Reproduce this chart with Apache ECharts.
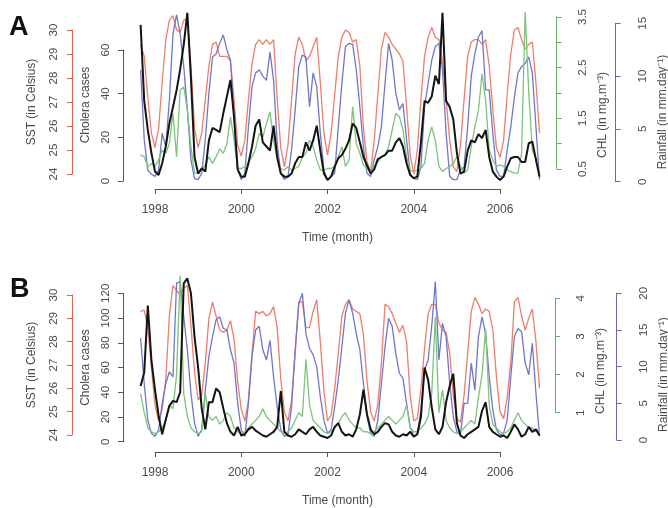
<!DOCTYPE html>
<html><head><meta charset="utf-8">
<script src="https://cdn.jsdelivr.net/npm/echarts@6/dist/echarts.min.js"></script>
<style>html,body{margin:0;padding:0;background:#fff}#c{width:668px;height:508px}</style>
</head><body><div id="c"></div>
<script>
// ---- DATA (monthly, Sep 1997 .. Dec 2006) ----
const START_YEAR = 1997, START_MONTH = 9;
const xTickYears = [1998, 2000, 2002, 2004, 2006];

// Panel A
const sstA = [29.4,28.9,27.2,25.7,
 25.1,25.9,27.8,29.6,30.4,30.6,30.0,29.9,30.4,30.5,28.5,25.9,
 25.1,25.7,27.1,28.5,29.4,29.5,28.9,28.9,28.9,28.7,27.1,25.2,
 24.75,25.4,27.1,28.6,29.4,29.6,29.4,29.6,29.4,29.6,27.1,25.1,
 24.3,25.2,27.1,29.0,29.7,29.4,28.7,28.9,29.3,29.7,27.8,25.7,
 24.8,25.7,27.3,28.9,29.7,30.0,29.9,29.5,29.6,28.5,25.9,24.5,
 24.1,25.4,27.3,29.2,29.9,29.7,29.4,29.2,29.0,28.7,26.8,24.8,
 24.0,25.0,27.1,28.9,29.7,30.1,29.7,29.6,28.7,27.1,25.4,24.3,
 24.1,25.2,27.1,28.9,29.5,29.6,29.6,29.4,29.6,28.5,26.7,25.1,
 24.7,25.4,27.3,29.0,30.0,30.1,29.6,29.2,29.4,29.5,27.8,25.7];
const rainA = [10.6,4.0,1.1,0.7,
 0.5,1.1,4.6,3.3,7.7,14.0,15.8,14.0,10.9,6.8,2.1,0.3,
 0.2,0.8,4.0,8.4,11.8,12.1,13.1,13.9,12.5,11.5,6.2,1.1,
 0.2,0.8,5.2,9.0,10.3,10.6,10.0,9.6,12.3,9.6,3.6,0.8,
 0.2,0.5,3.0,6.8,10.9,12.0,11.8,7.1,10.3,9.0,4.6,1.1,
 0.2,0.5,0.8,5.2,9.3,12.8,13.1,13.0,10.6,7.1,3.3,0.8,
 0.5,2.1,3.3,5.2,9.3,13.1,11.5,8.4,6.8,7.4,4.0,0.8,
 0.3,0.2,1.4,7.1,9.3,11.5,12.8,13.1,10.6,4.6,0.5,0.2,
 0.2,1.1,1.4,5.2,10.0,12.1,13.7,14.3,8.7,8.7,4.6,1.1,
 0.5,0.5,3.0,5.2,8.0,10.3,10.9,11.2,11.8,10.3,5.2,0.2];
const choleraA = [71.5,36.7,23.4,12.9,
 4.3,2.8,8.1,15.8,26.3,33.9,41.5,51.1,62.5,77,47.2,11.0,
 3.4,5.8,4.3,18.6,24.3,23.4,22.4,31.0,38.7,46.3,29.1,5.3,
 2.0,2.0,8.1,15.8,25.3,28.2,17.7,15.8,13.9,25.3,11.0,3.4,
 2.0,2.0,3.4,8.1,11.0,11.0,17.7,13.9,18.6,25.3,13.9,3.4,
 0.5,2.0,6.6,10.4,11.9,14.8,18.6,26.3,24.3,17.7,11.0,7.2,
 3.4,5.3,10.0,11.0,11.9,13.9,13.9,17.7,19.6,15.8,8.1,2.8,
 1.3,2.0,17.7,36.7,35.8,38.7,48.2,44.4,77,36.7,33.9,28.2,
 12.9,3.4,4.3,13.9,18.6,17.7,21.5,19.6,23.4,11.0,4.3,2.0,
 0.5,2.0,6.6,10.4,11.0,11.0,8.7,8.7,17.3,18.0,9.7,2.0];
const chlA = [0.78,0.74,0.55,0.61,
 0.55,0.68,0.87,0.81,1.0,1.6,0.74,2.06,2.12,1.66,0.94,0.42,
 0.42,0.48,0.58,0.74,0.61,0.74,0.9,0.81,1.0,1.53,1.07,0.51,
 0.51,0.55,0.64,0.74,0.9,1.2,1.13,1.4,1.63,1.07,0.68,0.51,
 0.48,0.55,0.48,0.51,0.55,0.74,0.81,1.07,0.94,0.68,0.48,0.48,
 0.51,0.51,0.55,0.74,0.94,0.55,0.68,1.73,1.0,0.81,0.58,0.51,
 0.51,0.55,0.64,0.74,0.78,0.94,1.27,1.6,1.53,1.27,0.74,0.48,
 0.45,0.48,0.51,0.61,1.07,1.33,1.07,0.55,0.45,0.51,0.55,0.61,
 0.74,0.55,0.42,0.48,0.94,1.33,1.66,2.38,1.86,0.87,0.68,0.55,
 0.58,0.55,0.48,0.45,0.42,0.42,0.81,3.6,2.0,0.87,0.71,0.68];

// Panel B
const sstB = [29.3,29.35,28.6,26.9,
 25.3,24.6,25.1,26.4,29.1,30.4,30.2,30.0,30.3,30.4,28.7,26.7,
 25.5,25.7,27.1,29.0,29.7,29.1,28.5,28.4,28.5,28.9,28.1,26.3,
 25.1,24.6,25.5,27.5,29.3,29.2,29.3,29.1,29.2,29.5,28.6,26.4,
 25.0,24.6,25.5,27.5,29.7,29.7,28.6,28.6,29.3,29.8,28.0,25.9,
 24.6,24.85,26.0,27.5,29.1,29.6,29.8,29.4,29.3,29.2,28.3,26.3,
 25.0,24.6,25.3,27.1,29.6,29.5,29.2,28.8,28.4,28.7,28.0,25.7,
 24.6,24.7,26.0,27.7,29.2,29.6,29.6,28.8,28.5,28.4,27.5,25.7,
 24.7,24.55,25.7,27.5,29.3,29.9,29.6,29.2,29.4,29.3,28.5,26.5,
 25.0,24.7,25.6,27.1,29.7,29.9,29.1,28.5,29.0,29.4,28.0,26.0];
const rainB = [13.9,7.7,2.7,0.9,
 0.5,1.4,5.0,7.7,9.3,8.6,21.4,21.6,16.8,12.3,6.4,2.3,
 0.5,1.4,6.8,11.4,14.1,16.4,16.8,15.2,15.0,12.3,10.5,5.0,
 1.4,0.5,5.0,11.4,15.0,15.5,12.3,10.9,13.6,8.6,4.5,1.4,
 0.5,0.7,4.5,12.3,18.6,20.0,14.5,12.5,11.6,10.0,5.9,2.7,
 0.9,1.4,4.5,8.2,12.7,17.3,19.1,17.3,14.5,12.3,7.7,3.2,
 0.9,0.5,2.7,7.7,12.7,16.6,15.5,11.8,9.1,8.4,5.0,1.8,
 0.5,0.9,4.1,9.5,10.9,15.5,21.6,10.9,15.9,14.1,7.7,3.2,
 1.1,0.7,5.0,5.0,10.5,6.8,14.1,16.8,14.5,8.6,4.1,1.4,
 0.7,0.9,2.7,8.6,14.1,15.2,14.8,10.5,8.9,13.2,6.4,0.5];
const choleraB = [45,56,110,66,
 42,21,6,18,29,33,32,40,128,132,120,85,
 60,27,10,32,32,43,40,27,15,8,5,12,
 5,6,10,12,9,7,5,4,6,8,12,41,
 8,5,4,6,10,8,6,10,12,8,5,4,
 3,5,12,15,8,5,6,4,10,22,42,22,
 10,6,8,12,15,14,8,5,4,6,5,8,
 4,6,20,60,50,28,10,6,12,32,45,55,
 15,5,3,6,8,10,12,25,32,12,8,6,
 4,5,3,8,14,10,4,6,12,8,10,5];
const chlB = [1.5,1.0,0.6,0.5,
 0.45,0.5,0.6,0.8,1.2,1.1,2.0,4.6,1.5,0.9,0.6,0.5,
 0.45,0.5,1.5,0.9,0.8,0.9,0.7,0.8,1.0,0.9,0.6,0.5,
 0.45,0.5,0.6,0.7,0.8,0.9,1.1,0.9,0.8,0.7,0.6,0.5,
 0.45,0.5,0.6,0.8,1.0,0.9,2.4,1.2,0.8,0.7,0.6,0.5,
 0.45,0.5,0.6,0.7,0.9,1.0,0.8,0.7,0.6,0.6,0.5,0.5,
 0.45,0.5,0.6,0.7,0.8,0.9,0.8,0.7,0.8,0.9,1.2,0.6,
 0.5,0.5,0.6,0.7,0.9,1.5,3.5,1.0,1.6,0.8,0.6,0.5,
 0.45,0.5,0.6,0.7,0.8,0.7,1.4,2.0,3.2,1.2,0.7,0.6,
 0.5,0.45,0.5,0.6,0.8,1.0,0.8,0.7,0.6,0.6,0.5,0.5];

const chlLabelsA = [0.5, 1.5, 2.5, 3.5];

// ---- LAYOUT ----
const FONT = '"Liberation Sans", Arial, Helvetica, sans-serif';
const XMIN = 1997.5, XMAX = 2007.1;
const GL = 155 - 0.5 * 43.125, GW = 9.6 * 43.125;
function tOf(i) { return START_YEAR + (START_MONTH - 1 + i) / 12; }
function pairs(arr) { return arr.map((v, i) => [tOf(i), v]); }

const C = {
  sstLine: '#ef7e6c', sstAxis: '#e4604e',
  rainLine: '#7077c8', rainAxis: '#6a64b4',
  chlLine: '#7cc47c', chlAxis: '#62b462',
  cholLine: '#141414', cholAxis: '#555555',
  text: '#4a4a4a'
};

const grids = [], xAxes = [], yAxes = [], series = [];

function addAxis(cfg) {
  const gi = grids.length;
  grids.push({ left: GL, width: GW, top: cfg.top, height: cfg.bottom - cfg.top, containLabel: false, outerBoundsMode: 'none' });
  xAxes.push({ type: 'value', gridIndex: gi, min: XMIN, max: XMAX, show: false });
  yAxes.push({
    type: 'value', gridIndex: gi, min: cfg.min, max: cfg.max, interval: cfg.interval,
    position: cfg.side, offset: cfg.offset,
    name: cfg.name, nameLocation: 'middle', nameGap: cfg.nameGap,
    nameTextStyle: { fontFamily: FONT, fontSize: 12, color: C.text, padding: cfg.namePad || 0 },
    axisLine: { show: true, onZero: false, lineStyle: { color: cfg.axisColor, width: 1 } },
    axisTick: { show: true, length: 5, lineStyle: { color: cfg.axisColor, width: 1 } },
    axisLabel: { rotate: 90, margin: cfg.labelMargin, fontFamily: FONT, fontSize: 11.5, color: C.text,
      formatter: cfg.labels ? (v => cfg.labels.some(l => Math.abs(l - v) < 1e-6) ? String(v) : '') : (v => String(v)) },
    splitLine: { show: false }
  });
  series.push({
    type: 'line', xAxisIndex: gi, yAxisIndex: gi, data: pairs(cfg.data),
    showSymbol: false, symbol: 'none', clip: false, silent: true, animation: false,
    z: cfg.z, lineStyle: { color: cfg.lineColor, width: cfg.lineWidth }
  });
}

function addXAxis(axisY) {
  const gi = grids.length;
  grids.push({ left: 155, width: 345, top: axisY - 1, height: 1, containLabel: false, outerBoundsMode: 'none' });
  xAxes.push({
    type: 'value', gridIndex: gi, min: xTickYears[0], max: xTickYears[xTickYears.length - 1], interval: 2,
    position: 'bottom', name: 'Time (month)', nameLocation: 'middle', nameGap: 43,
    nameTextStyle: { fontFamily: FONT, fontSize: 12, color: C.text, padding: [0, 0, 0, 20] },
    axisLine: { show: true, onZero: false, lineStyle: { color: '#555', width: 1 } },
    axisTick: { show: true, length: 5, lineStyle: { color: '#555' } },
    axisLabel: { margin: 15, fontFamily: FONT, fontSize: 12, color: C.text, formatter: v => String(v) },
    splitLine: { show: false }
  });
  yAxes.push({ type: 'value', gridIndex: gi, show: false, min: 0, max: 1 });
}

// Panel A
addAxis({ name: 'SST (in Celsius)', data: sstA, min: 24, max: 30, interval: 1, top: 30, bottom: 174,
  side: 'left', offset: GL - 72, nameGap: 34, labelMargin: 12, axisColor: C.sstAxis, lineColor: C.sstLine, lineWidth: 1.3, z: 2 });
addAxis({ name: 'Rainfall (in mm.day\u207B\u00B9)', data: rainA, min: 0, max: 15, interval: 5, top: 23.3, bottom: 181.7,
  side: 'right', offset: 615.7 - (GL + GW), nameGap: 34, labelMargin: 21, namePad: [0, 19, 0, 0], axisColor: C.rainAxis, lineColor: C.rainLine, lineWidth: 1.3, z: 3 });
addAxis({ name: 'CHL (in mg.m\u207B\u00B3)', data: chlA, min: 0.5, max: 3.5, interval: 0.5, top: 17, bottom: 169, labels: chlLabelsA,
  side: 'right', offset: 556.7 - (GL + GW), nameGap: 37, labelMargin: 20, namePad: [0, 44, 0, 0], axisColor: C.chlAxis, lineColor: C.chlLine, lineWidth: 1.3, z: 4 });
addAxis({ name: 'Cholera cases', data: choleraA, min: 0, max: 60, interval: 20, top: 50, bottom: 181,
  side: 'left', offset: GL - 123, nameGap: 31, labelMargin: 11, namePad: [0, 0, 0, 21], axisColor: C.cholAxis, lineColor: C.cholLine, lineWidth: 2, z: 5 });
addXAxis(189);

// Panel B
addAxis({ name: 'SST (in Celsius)', data: sstB, min: 24, max: 30, interval: 1, top: 295, bottom: 435,
  side: 'left', offset: GL - 72, nameGap: 34, labelMargin: 12, axisColor: C.sstAxis, lineColor: C.sstLine, lineWidth: 1.3, z: 2 });
addAxis({ name: 'Rainfall (in mm.day\u207B\u00B9)', data: rainB, min: 0, max: 20, interval: 5, top: 293.3, bottom: 440,
  side: 'right', offset: 616.7 - (GL + GW), nameGap: 33, labelMargin: 21, namePad: [0, 16, 0, 0], axisColor: C.rainAxis, lineColor: C.rainLine, lineWidth: 1.3, z: 3 });
addAxis({ name: 'CHL (in mg.m\u207B\u00B3)', data: chlB, min: 1, max: 4, interval: 1, top: 298.3, bottom: 412.7,
  side: 'right', offset: 555 - (GL + GW), nameGap: 36, labelMargin: 20, namePad: [0, 31, 0, 0], axisColor: C.chlAxis, lineColor: C.chlLine, lineWidth: 1.3, z: 4 });
addAxis({ name: 'Cholera cases', data: choleraB, min: 0, max: 120, interval: 20, top: 293.3, bottom: 441.7,
  side: 'left', offset: GL - 123, nameGap: 31, labelMargin: 11, axisColor: C.cholAxis, lineColor: C.cholLine, lineWidth: 2, z: 5 });
addXAxis(452);

const chart = echarts.init(document.getElementById('c'), null, { renderer: 'canvas' });
chart.setOption({
  animation: false,
  backgroundColor: '#ffffff',
  title: [
    { text: 'A', left: 9, top: 14, padding: 0, textStyle: { fontFamily: FONT, fontSize: 27, fontWeight: 'bold', color: '#111' } },
    { text: 'B', left: 10, top: 276, padding: 0, textStyle: { fontFamily: FONT, fontSize: 27, fontWeight: 'bold', color: '#111' } }
  ],
  grid: grids, xAxis: xAxes, yAxis: yAxes, series: series
});
</script>
</body></html>
